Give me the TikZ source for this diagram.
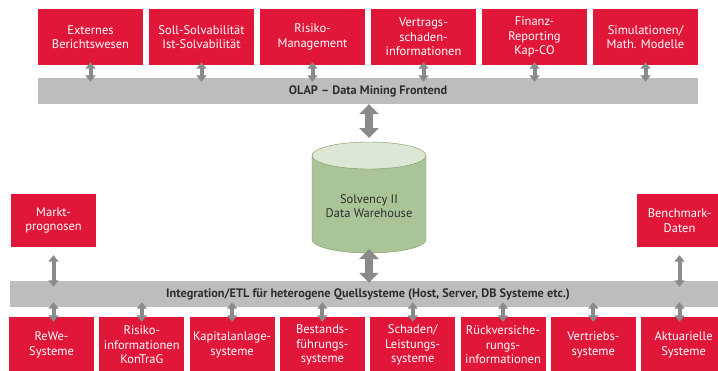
\documentclass[tikz,border=0pt]{standalone}
\usepackage{fontspec}
\setmainfont{PT Sans}
\usepackage{xcolor}
\usetikzlibrary{arrows.meta}

\definecolor{boxred}{HTML}{E1173A}
\definecolor{bargray}{HTML}{BDBDBF}
\definecolor{bartext}{HTML}{2E2E2E}
\definecolor{arrgray}{HTML}{8A8A8C}
\definecolor{dwbody}{HTML}{A9C597}
\definecolor{dwtop}{HTML}{DDE7D5}
\definecolor{dwline}{HTML}{7E9462}

\begin{document}
\begin{tikzpicture}[x=1pt,y=-1pt,
  redbox/.style={fill=boxred,text=white,align=center,inner sep=0pt,font=\fontsize{12.5}{14.5}\selectfont},
  topbox/.style={redbox,minimum width=105pt,minimum height=56pt},
  botbox/.style={redbox,minimum width=85pt,minimum height=56pt},
  sidebox/.style={redbox,minimum width=85pt,minimum height=53pt},
  bar/.style={fill=bargray,text=bartext,inner sep=0pt,minimum height=26pt,font=\bfseries\fontsize{12.3}{14}\selectfont},
  smallarr/.style={draw=arrgray,line width=4pt,{Triangle[width=10pt,length=6.5pt]}-{Triangle[width=10pt,length=6.5pt]}},
  bigarr/.style={draw=arrgray,line width=8pt,{Triangle[width=19pt,length=10pt]}-{Triangle[width=19pt,length=10pt]}}]

% fix the page size and cut off what runs over the edges
\useasboundingbox (0,0) rectangle (718,370);
\fill[white] (0,0) rectangle (718,370);
\clip (0,0) rectangle (718,370);

% reporting boxes on top
\node[topbox] (ext) at (90.5,37) {Externes\\Berichtswesen};
\node[topbox] (solv) at (201.5,37) {Soll-Solvabilität\\Ist-Solvabilität};
\node[topbox] (risk) at (312.5,37) {Risiko-\\Management};
\node[topbox] (vertr) at (423.5,37) {Vertrags-\\schaden-\\informationen};
\node[topbox] (fin) at (534.5,37) {Finanz-\\Reporting\\Kap-CO};
\node[topbox] (sim) at (645.5,37) {Simulationen/\\Math. Modelle};

% OLAP bar
\node[bar,minimum width=660pt] (olap) at (368,91) {OLAP -- Data Mining Frontend};

% arrows between top boxes and OLAP bar
\draw[smallarr] ([yshift=3pt]ext.south) -- ([yshift=-4pt]ext.south |- olap.north);
\draw[smallarr] ([yshift=3pt]solv.south) -- ([yshift=-4pt]solv.south |- olap.north);
\draw[smallarr] ([yshift=3pt]risk.south) -- ([yshift=-4pt]risk.south |- olap.north);
\draw[smallarr] ([yshift=3pt]vertr.south) -- ([yshift=-4pt]vertr.south |- olap.north);
\draw[smallarr] ([yshift=3pt]fin.south) -- ([yshift=-4pt]fin.south |- olap.north);
\draw[smallarr] ([yshift=3pt]sim.south) -- ([yshift=-4pt]sim.south |- olap.north);

% data warehouse drum
\def\rx{57}
\def\ry{13.5}
\coordinate (dwtopc) at (369,155.5);
\coordinate (dwbotc) at (369,239.5);
\draw[dwline,fill=dwbody] (312,155.5) -- (312,239.5) arc[start angle=180,end angle=0,x radius=\rx,y radius=\ry] -- (426,155.5) -- cycle;
\draw[dwline,fill=dwtop] (dwtopc) ellipse[x radius=\rx,y radius=\ry];
\coordinate (dwn) at (369,142);
\coordinate (dws) at (369,253);
\node[text=bartext,align=center,font=\fontsize{12.5}{14.5}\selectfont] (dw) at (369,206) {Solvency II\\Data Warehouse};

% integration bar
\node[bar,minimum width=716pt] (integ) at (368,294) {Integration/ETL für heterogene Quellsysteme (Host, Server, DB Systeme etc.)};

% big arrows to and from the warehouse
\draw[bigarr] (olap.south -| dwn) -- ([yshift=4pt]dwn);
\draw[bigarr] ([yshift=4pt]dws) -- ([yshift=-2pt]dws |- integ.north);

% external sources left and right
\node[sidebox] (markt) at (53.5,220.5) {Markt-\\prognosen};
\node[sidebox] (bench) at (679.5,220.5) {Benchmark-\\Daten};
\draw[smallarr] ([yshift=-8pt]markt.south) -- ([yshift=-6pt]markt.south |- integ.north);
\draw[smallarr] ([yshift=-8pt]bench.south) -- ([yshift=-6pt]bench.south |- integ.north);

% source systems at the bottom
\node[botbox] (rewe) at (51.5,345) {ReWe-\\Systeme};
\node[botbox] (kontrag) at (141.8,345) {Risiko-\\informationen\\KonTraG};
\node[botbox] (kap) at (232.1,345) {Kapitalanlage-\\systeme};
\node[botbox] (best) at (322.4,345) {Bestands-\\führungs-\\systeme};
\node[botbox] (schad) at (412.7,345) {Schaden/\\Leistungs-\\systeme};
\node[botbox] (rueck) at (503,345) {Rückversiche-\\rungs-\\informationen};
\node[botbox] (vertrieb) at (593.3,345) {Vertriebs-\\systeme};
\node[botbox] (akt) at (683.6,345) {Aktuarielle\\Systeme};

% arrows between integration bar and source systems
\draw[smallarr] ([yshift=5pt]markt.south |- integ.south) -- ([yshift=-5pt]markt.south |- rewe.north);
\draw[smallarr] ([yshift=5pt]kontrag.north |- integ.south) -- ([yshift=-5pt]kontrag.north);
\draw[smallarr] ([yshift=5pt]kap.north |- integ.south) -- ([yshift=-5pt]kap.north);
\draw[smallarr] ([yshift=5pt]best.north |- integ.south) -- ([yshift=-5pt]best.north);
\draw[smallarr] ([yshift=5pt]schad.north |- integ.south) -- ([yshift=-5pt]schad.north);
\draw[smallarr] ([yshift=5pt]rueck.north |- integ.south) -- ([yshift=-5pt]rueck.north);
\draw[smallarr] ([yshift=5pt]vertrieb.north |- integ.south) -- ([yshift=-5pt]vertrieb.north);
\draw[smallarr] ([yshift=5pt]bench.south |- integ.south) -- ([yshift=-5pt]bench.south |- akt.north);

\end{tikzpicture}
\end{document}
